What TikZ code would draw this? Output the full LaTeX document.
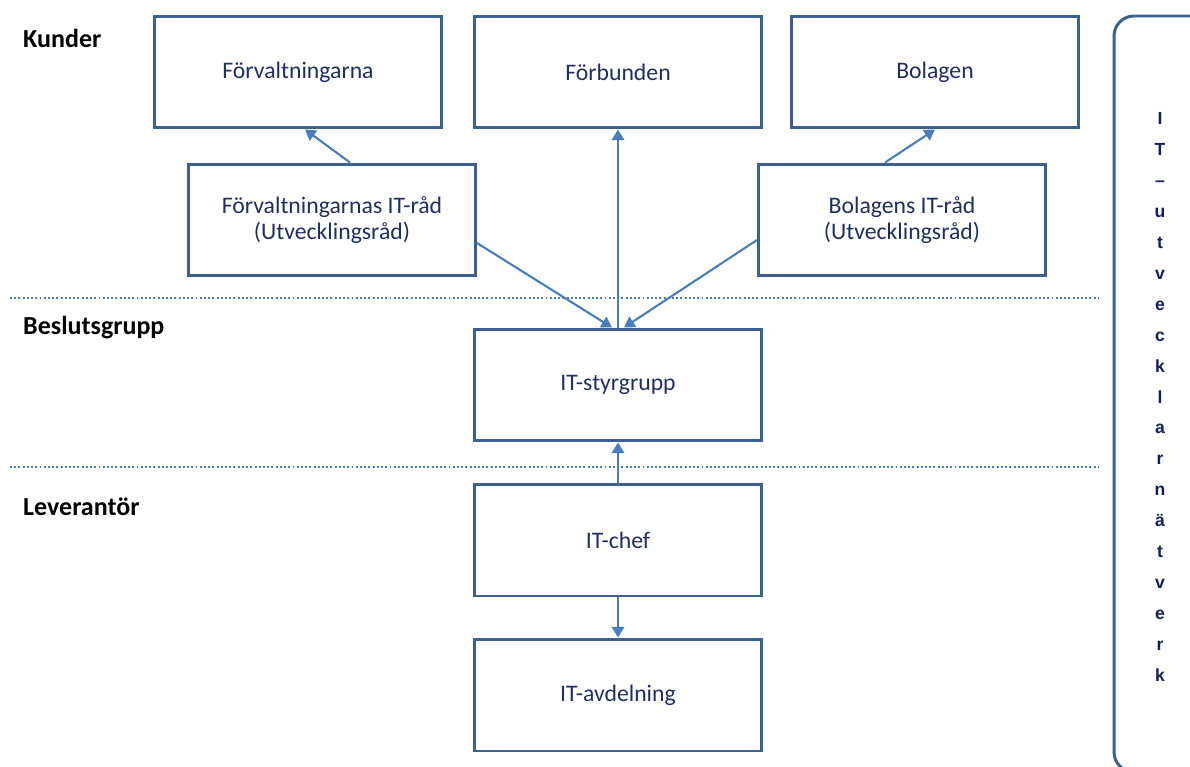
\documentclass[tikz,border=0pt]{standalone}
\usepackage{fontspec}
\setmainfont{Carlito}
\newfontfamily\vfont{Liberation Sans}
\usetikzlibrary{arrows.meta}
\definecolor{boxblue}{RGB}{60,96,146}
\definecolor{lineblue}{RGB}{74,126,187}
\definecolor{txtblue}{RGB}{31,47,96}
\definecolor{vtxt}{RGB}{20,30,90}

\begin{document}
\begin{tikzpicture}[x=0.02cm,y=-0.02cm,
	box/.style={draw=boxblue,line width=1.7pt,minimum width=5.74cm,minimum height=2.24cm,
		align=center,text=txtblue,font=\fontsize{13.5}{14.5}\selectfont},
	lev/.style={anchor=west,font=\fontsize{14.8}{16}\selectfont\bfseries},
	conn/.style={draw=lineblue,line width=1.2pt,-{Triangle[width=7pt,length=6pt]}},
	sep/.style={draw=lineblue,line width=0.6pt,dash pattern=on 1.1pt off 1.3pt}]
	\useasboundingbox (0,0) rectangle (1190,767);
	% nivaer
	\node[lev] (kund) at (17,38) {Kunder};
	\node[lev] (besl) at (17,328) {Beslutsgrupp};
	\node[lev] (leve) at (17,507) {Leverantör};
	\draw[sep] (10,298) -- (1098,298);
	\draw[sep] (10,467) -- (1098,467);
	%
	\node[box] (forv) at (298,72) {Förvaltningarna};
	\node[box] (forb) at (618,72) {Förbunden};
	\node[box] (bola) at (935,72) {Bolagen};
	\node[box] (fr) at (332,220) {Förvaltningarnas IT-råd\\(Utvecklingsråd)};
	\node[box] (br) at (902,220) {Bolagens IT-råd\\(Utvecklingsråd)};
	\node[box] (styr) at (618,385) {IT-styrgrupp};
	\node[box] (chef) at (618,540) {IT-chef};
	\node[box] (avd) at (618,695) {IT-avdelning};
	%
	\draw[conn] ([xshift=0.36cm]fr.north) -- ([xshift=0.14cm]forv.south);
	\draw[conn] ([xshift=-0.34cm]br.north) -- (bola.south);
	\draw[conn] (styr.north) -- (forb.south);
	\draw[conn] ([yshift=-0.46cm]fr.east) -- ([xshift=-0.12cm]styr.north);
	\draw[conn] ([yshift=-0.4cm]br.west) -- ([xshift=0.12cm]styr.north);
	\draw[conn] (chef.north) -- (styr.south);
	\draw[conn] (chef.south) -- (avd.north);
	% natverk
	\draw[boxblue,line width=1.7pt,rounded corners=0.4cm] (1210,772) -| (1114,16) -- (1210,16);
	\node[text=vtxt,font=\vfont\fontsize{10}{17.6}\selectfont\bfseries,align=center] (natv) at (1160,397)
		{I\\T\\–\\u\\t\\v\\e\\c\\k\\l\\a\\r\\n\\ä\\t\\v\\e\\r\\k};
\end{tikzpicture}
\end{document}
